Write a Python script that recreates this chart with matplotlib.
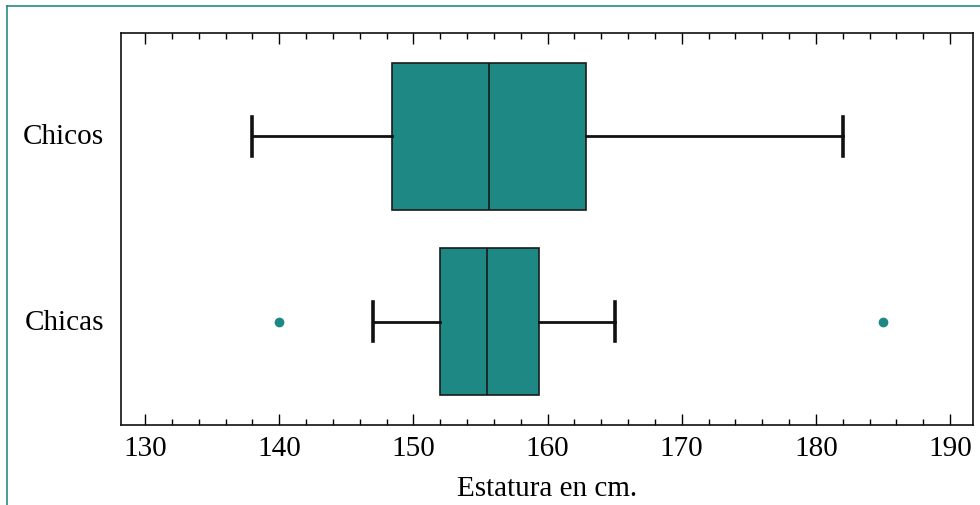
import matplotlib.pyplot as plt
from matplotlib.lines import Line2D
from matplotlib.ticker import MultipleLocator

plt.rcParams['font.family'] = ['Liberation Serif', 'DejaVu Serif']

groups = ['Chicas', 'Chicos']
whislo = [147, 138]
q1 = [152, 148.4]
med = [155.5, 155.6]
q3 = [159.4, 162.9]
whishi = [165, 182]
fliers = [[140, 185], []]

teal = '#1e8984'

stats = []
for i, g in enumerate(groups):
    stats.append(dict(label=g, whislo=whislo[i], q1=q1[i], med=med[i],
                      q3=q3[i], whishi=whishi[i], fliers=fliers[i]))

fig = plt.figure(figsize=(9.8, 5.06), dpi=100)
ax = fig.add_axes([121 / 980, 1 - 426 / 506, (973 - 121) / 980, (426 - 34) / 506])

ax.bxp(stats, positions=[0, 1], vert=False, widths=0.795, patch_artist=True,
       boxprops=dict(facecolor=teal, edgecolor='#1a1a1a', linewidth=1.2),
       medianprops=dict(color='#1a1a1a', linewidth=1.2),
       whiskerprops=dict(color='#111111', linewidth=2),
       capprops=dict(color='#111111', linewidth=2.6),
       capwidths=0.211,
       flierprops=dict(marker='o', markersize=6, markerfacecolor=teal,
                       markeredgecolor=teal))

ax.set_xlim(128.21, 191.71)
ax.set_ylim(-0.559, 1.559)
ax.xaxis.set_major_locator(MultipleLocator(10))
ax.xaxis.set_minor_locator(MultipleLocator(2))
ax.tick_params(axis='x', which='major', direction='in', length=8, width=1,
               top=True, labelsize=21, pad=7)
ax.tick_params(axis='x', which='minor', direction='in', length=4, width=1, top=True)
ax.tick_params(axis='y', which='both', length=0, labelsize=21, pad=12)
ax.set_yticks([0, 1])
ax.set_yticklabels(groups)
for lbl in ax.get_yticklabels():
    lbl.set_verticalalignment('center')
ax.set_xlabel('Estatura en cm.', fontsize=21, labelpad=10)
for s in ax.spines.values():
    s.set_linewidth(1.2)
    s.set_color('#111111')

# frame line round the figure
fig.add_artist(Line2D([7 / 980, 7 / 980], [0, 1 - 7 / 506], color='#2a8a86', lw=1.2))
fig.add_artist(Line2D([7 / 980, 1], [1 - 7 / 506, 1 - 7 / 506], color='#2a8a86', lw=1.2))

fig.savefig('out.png', dpi=100)
